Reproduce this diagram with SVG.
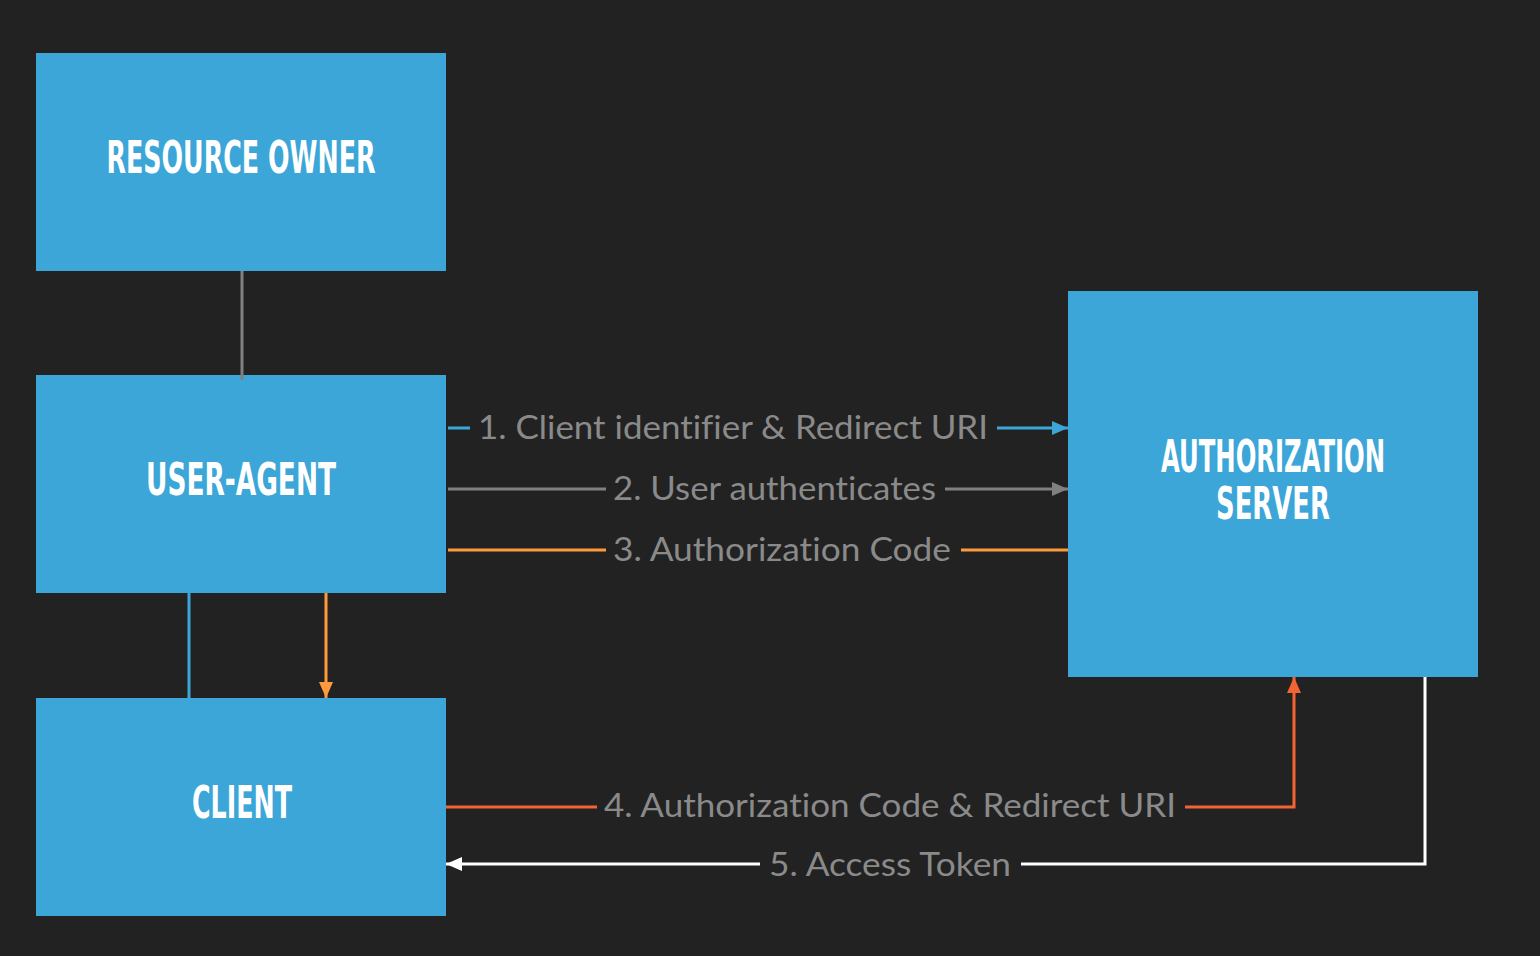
<svg xmlns="http://www.w3.org/2000/svg" width="1540" height="956" viewBox="0 0 1540 956">
<style>
.box{fill:#3BA6D7}
.title{font-family:"DejaVu Sans Condensed","DejaVu Sans",sans-serif;font-weight:bold;font-size:45px;fill:#FFFFFF;text-anchor:middle}
.lbl{font-family:Lato,"Noto Sans","Liberation Sans",sans-serif;font-size:33px;fill:#8A8A8A;font-variant-ligatures:none}
.c{fill:none;stroke-width:3}
</style>
<defs>
<marker id="aBlue" markerUnits="userSpaceOnUse" markerWidth="16" markerHeight="14" refX="16" refY="7" orient="auto"><path d="M0,0 L16,7 L0,14 Z" fill="#3BA6D7"/></marker>
<marker id="aGray" markerUnits="userSpaceOnUse" markerWidth="16" markerHeight="14" refX="16" refY="7" orient="auto"><path d="M0,0 L16,7 L0,14 Z" fill="#808080"/></marker>
<marker id="aOrange" markerUnits="userSpaceOnUse" markerWidth="16" markerHeight="14" refX="16" refY="7" orient="auto"><path d="M0,0 L16,7 L0,14 Z" fill="#FF9A3C"/></marker>
<marker id="aRed" markerUnits="userSpaceOnUse" markerWidth="16" markerHeight="14" refX="16" refY="7" orient="auto"><path d="M0,0 L16,7 L0,14 Z" fill="#F26433"/></marker>
<marker id="aWhite" markerUnits="userSpaceOnUse" markerWidth="16" markerHeight="14" refX="16" refY="7" orient="auto"><path d="M0,0 L16,7 L0,14 Z" fill="#FFFFFF"/></marker>
</defs>
<rect width="1540" height="956" fill="#222222"/>
<g id="resource-owner">
<rect class="box" x="36" y="53" width="410" height="218"/>
<text class="title" x="241" y="173" textLength="269" lengthAdjust="spacingAndGlyphs">RESOURCE OWNER</text>
</g>
<g id="user-agent">
<rect class="box" x="36" y="375" width="410" height="218"/>
<text class="title" x="241" y="495" textLength="190" lengthAdjust="spacingAndGlyphs">USER-AGENT</text>
</g>
<g id="client">
<rect class="box" x="36" y="698" width="410" height="218"/>
<text class="title" x="242" y="818" textLength="100" lengthAdjust="spacingAndGlyphs">CLIENT</text>
</g>
<g id="authorization-server">
<rect class="box" x="1068" y="291" width="410" height="386"/>
<text class="title" x="1273" y="472" textLength="224" lengthAdjust="spacingAndGlyphs">AUTHORIZATION</text>
<text class="title" x="1273" y="519" textLength="114" lengthAdjust="spacingAndGlyphs">SERVER</text>
</g>
<g id="connectors">
<line class="c" x1="242" y1="271" x2="242" y2="380" stroke="#808080"/>
<line class="c" x1="189" y1="593" x2="189" y2="698" stroke="#3BA6D7"/>
<line class="c" x1="326" y1="593" x2="326" y2="698" stroke="#FF9A3C" marker-end="url(#aOrange)"/>
<line class="c" x1="448" y1="428" x2="470" y2="428" stroke="#3BA6D7"/>
<line class="c" x1="997" y1="428" x2="1068" y2="428" stroke="#3BA6D7" marker-end="url(#aBlue)"/>
<line class="c" x1="448" y1="489" x2="606" y2="489" stroke="#808080"/>
<line class="c" x1="945" y1="489" x2="1068" y2="489" stroke="#808080" marker-end="url(#aGray)"/>
<line class="c" x1="448" y1="550" x2="606" y2="550" stroke="#FF9A3C"/>
<line class="c" x1="961" y1="550" x2="1068" y2="550" stroke="#FF9A3C"/>
<line class="c" x1="446" y1="807" x2="597" y2="807" stroke="#F26433"/>
<polyline class="c" points="1185,807 1294,807 1294,677" stroke="#F26433" marker-end="url(#aRed)"/>
<polyline class="c" points="1425,677 1425,864 1021,864" stroke="#FFFFFF"/>
<line class="c" x1="760" y1="864" x2="446" y2="864" stroke="#FFFFFF" marker-end="url(#aWhite)"/>
<text class="lbl" x="478" y="439" textLength="510" lengthAdjust="spacingAndGlyphs">1. Client identifier &amp; Redirect URI</text>
<text class="lbl" x="613" y="500" textLength="323" lengthAdjust="spacingAndGlyphs">2. User authenticates</text>
<text class="lbl" x="613" y="561" textLength="338" lengthAdjust="spacingAndGlyphs">3. Authorization Code</text>
<text class="lbl" x="604" y="817" textLength="572" lengthAdjust="spacingAndGlyphs">4. Authorization Code &amp; Redirect URI</text>
<text class="lbl" x="769" y="876" textLength="242" lengthAdjust="spacingAndGlyphs">5. Access Token</text>
</g>
</svg>
